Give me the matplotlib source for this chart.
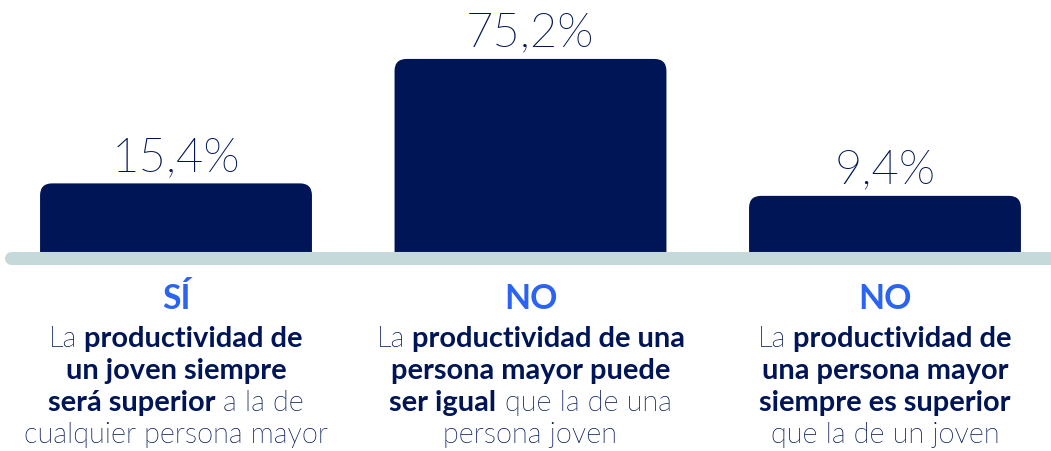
import os
import matplotlib
matplotlib.use("Agg")
import matplotlib.pyplot as plt
from matplotlib import font_manager as fm
from matplotlib.patches import FancyBboxPatch
from matplotlib.transforms import blended_transform_factory, offset_copy

# data
answers = ["SÍ", "NO", "NO"]
values = [15.4, 75.2, 9.4]
value_labels = ["15,4%", "75,2%", "9,4%"]
descriptions = [
    [[("La", "light"), ("productividad de", "bold")],
     [("un joven siempre", "bold")],
     [("será superior", "bold"), ("a la de", "light")],
     [("cualquier persona mayor", "light")]],
    [[("La", "light"), ("productividad de una", "bold")],
     [("persona mayor puede", "bold")],
     [("ser igual", "bold"), ("que la de una", "light")],
     [("persona joven", "light")]],
    [[("La", "light"), ("productividad de", "bold")],
     [("una persona mayor", "bold")],
     [("siempre es superior", "bold")],
     [("que la de un joven", "light")]],
]

NAVY = "#001556"
BLUE = "#2b63f2"
GREY = "#c5d9db"
FONT = "Lato"

# find a real Lato Light file, fall back to regular weight
light_file = None
for f in fm.fontManager.ttflist:
    base = os.path.basename(f.fname).lower()
    if "lato" in base and "light" in base and "italic" not in base:
        light_file = f.fname
        break


def props(weight, size):
    if weight == "light":
        if light_file:
            return fm.FontProperties(fname=light_file, size=size)
        return fm.FontProperties(family=FONT, weight="normal", size=size)
    return fm.FontProperties(family=FONT, weight=weight, size=size)


fig = plt.figure(figsize=(10.51, 4.52), dpi=100)
ax = fig.add_axes([0, 0, 1, 1])
ax.set_xlim(-0.4965, 2.4683)
ax.set_ylim(-113.2, 104.0)
ax.axis("off")

x = list(range(len(values)))
# bars start just under the floor line so the lower rounded corners hide
bottom = -23.1
bars = ax.bar(x, [v - bottom for v in values], bottom=bottom, width=0.767,
              color=NAVY, zorder=2)

for b in bars:
    x0, y0 = b.get_x(), b.get_y()
    w, h = b.get_width(), b.get_height()
    box = FancyBboxPatch((x0, y0), w, h,
                         boxstyle="round,pad=0,rounding_size=0.034",
                         mutation_aspect=170.4, facecolor=NAVY,
                         edgecolor="none", zorder=2)
    ax.add_patch(box)
    b.set_visible(False)

# floor line
ax.plot([-0.465, 2.6], [-20.4, -20.4], color=GREY, lw=9.4,
        solid_capstyle="round", zorder=3)

for xi, v, lab in zip(x, values, value_labels):
    ax.annotate(lab, (xi, v), xytext=(0, 9.5), textcoords="offset points",
                ha="center", va="baseline", fontproperties=props("light", 34),
                color=NAVY)

trans = blended_transform_factory(ax.transData, fig.transFigure)
renderer = fig.canvas.get_renderer()


def text_width(s, weight, size):
    t = fig.text(0, 0, s, fontproperties=props(weight, size))
    w = t.get_window_extent(renderer).width
    t.remove()
    return w


size = 20.9
space = {wt: text_width("a a", wt, size) - text_width("aa", wt, size)
         for wt in ("light", "bold")}

line_px = [347, 379, 411, 443]
for xi, ans, lines in zip(x, answers, descriptions):
    ax.text(xi, 1 - 309 / 452, ans, transform=trans, ha="center",
            va="baseline", fontproperties=props("bold", 24.3), color=BLUE)
    for py, segs in zip(line_px, lines):
        widths = [text_width(s, wt, size) for s, wt in segs]
        total = sum(widths) + sum(space[wt] for s, wt in segs[1:])
        cur = -total / 2
        for i, ((s, wt), w) in enumerate(zip(segs, widths)):
            if i > 0:
                cur += space[wt]
            tr = offset_copy(trans, fig=fig, x=cur, y=0, units="dots")
            ax.text(xi, 1 - py / 452, s, transform=tr, ha="left",
                    va="baseline", fontproperties=props(wt, size),
                    color=NAVY)
            cur += w

fig.savefig("out.png", dpi=100)
